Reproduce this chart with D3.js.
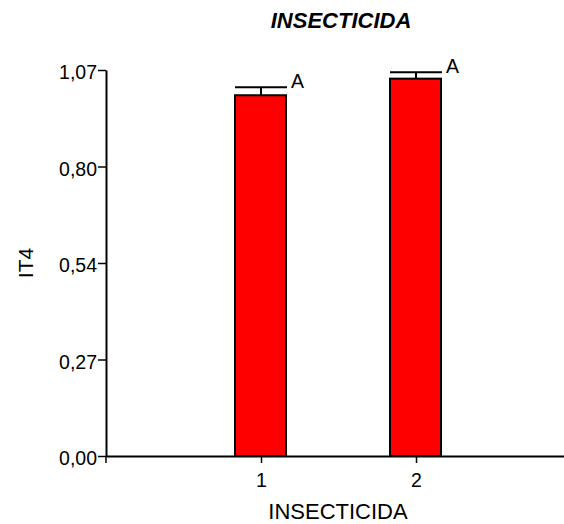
<!DOCTYPE html>
<html>
<head>
<meta charset="utf-8">
<script src="https://cdn.jsdelivr.net/npm/d3@7"></script>
<style>
  body { margin: 0; background: #fff; }
  svg { display: block; font-family: "Liberation Sans", Arial, sans-serif; }
</style>
</head>
<body>
<svg id="chart" width="564" height="524"></svg>
<script>
// values
const categories = [1, 2];
const means = [1.0, 1.046];
const errors = [0.022, 0.018];
const groupLetters = ["A", "A"];
const yTicks = [0, 0.2675, 0.535, 0.8025, 1.07];
const yTickLabels = ["0,00", "0,27", "0,54", "0,80", "1,07"];
const title = "INSECTICIDA";
const xTitle = "INSECTICIDA";
const yTitle = "IT4";

const svg = d3.select("#chart");

const x = d3.scaleLinear().domain([0, 3]).range([106, 571]);
const y = d3.scaleLinear().domain([0, 1.07]).range([456, 70]);

const barW = 51;

// y axis
const yAxis = svg.append("g")
  .attr("transform", "translate(" + x(0) + ",0)")
  .call(d3.axisLeft(y)
    .tickValues(yTicks)
    .tickFormat(function (d, i) { return yTickLabels[i]; })
    .tickSize(8)
    .tickPadding(1)
    .tickSizeOuter(0));
yAxis.select(".domain").attr("stroke-width", 2);
yAxis.selectAll(".tick line").attr("stroke-width", 1.5);
yAxis.selectAll("text")
  .attr("font-size", "19.5px")
  .attr("font-family", "Liberation Sans, Arial, sans-serif")
  .attr("fill", "#000")
  .attr("dy", "0.45em");

// x axis
const xAxis = svg.append("g")
  .attr("transform", "translate(0," + y(0) + ")")
  .call(d3.axisBottom(x)
    .tickValues(categories)
    .tickFormat(d3.format("d"))
    .tickSize(7)
    .tickPadding(10)
    .tickSizeOuter(0));
xAxis.select(".domain").attr("stroke-width", 2);
xAxis.selectAll(".tick line").attr("stroke-width", 1.5);
xAxis.selectAll("text")
  .attr("font-size", "19.5px")
  .attr("font-family", "Liberation Sans, Arial, sans-serif")
  .attr("fill", "#000");

// small tick at the origin going down
svg.append("line")
  .attr("x1", x(0)).attr("x2", x(0))
  .attr("y1", y(0)).attr("y2", y(0) + 7)
  .attr("stroke", "#000").attr("stroke-width", 1.5);

// bars
svg.selectAll(".bar")
  .data(categories)
  .enter()
  .append("rect")
  .attr("class", "bar")
  .attr("x", function (d) { return x(d) - 26; })
  .attr("y", function (d, i) { return y(means[i]); })
  .attr("width", barW)
  .attr("height", function (d, i) { return y(0) - y(means[i]); })
  .attr("fill", "#ff0000")
  .attr("stroke", "#000")
  .attr("stroke-width", 2);

// error bars
const err = svg.selectAll(".err")
  .data(categories)
  .enter()
  .append("g")
  .attr("class", "err");
err.append("line")
  .attr("x1", function (d) { return x(d); })
  .attr("x2", function (d) { return x(d); })
  .attr("y1", function (d, i) { return y(means[i]); })
  .attr("y2", function (d, i) { return y(means[i] + errors[i]); })
  .attr("stroke", "#000").attr("stroke-width", 2);
err.append("line")
  .attr("x1", function (d) { return x(d) - 26; })
  .attr("x2", function (d) { return x(d) + 26; })
  .attr("y1", function (d, i) { return y(means[i] + errors[i]); })
  .attr("y2", function (d, i) { return y(means[i] + errors[i]); })
  .attr("stroke", "#000").attr("stroke-width", 2);
err.append("text")
  .attr("x", function (d) { return x(d) + 30; })
  .attr("y", function (d, i) { return y(means[i] + errors[i]) + 1; })
  .attr("font-size", "19.5px")
  .text(function (d, i) { return groupLetters[i]; });

// titles
svg.append("text")
  .attr("x", 341)
  .attr("y", 28)
  .attr("text-anchor", "middle")
  .attr("font-size", "22px")
  .attr("font-weight", "bold")
  .attr("font-style", "italic")
  .text(title);

svg.append("text")
  .attr("x", 338)
  .attr("y", 519)
  .attr("text-anchor", "middle")
  .attr("font-size", "22px")
  .text(xTitle);

svg.append("text")
  .attr("transform", "translate(33," + 263 + ") rotate(-90)")
  .attr("text-anchor", "middle")
  .attr("font-size", "21px")
  .text(yTitle);
</script>
</body>
</html>
